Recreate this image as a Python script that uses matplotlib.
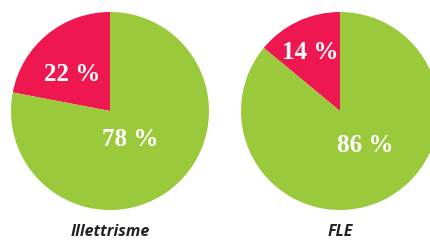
import numpy as np
import matplotlib
matplotlib.use("Agg")
import matplotlib.pyplot as plt

titles = ["Illettrisme", "FLE"]
red_values = [22, 14]
green_values = [78, 86]
label_texts = [["22 %", "78 %"], ["14 %", "86 %"]]

RED = "#EE1750"
GREEN = "#9BC93C"

fig = plt.figure(figsize=(4.31, 2.40), dpi=100)
W, H = 431, 240
R = 99
centers = [(110, 111), (340, 111)]
# label placement (radius fraction, angle offset deg) per wedge
label_place = [[(0.53, 6), (0.36, -4)], [(0.66, 2), (0.43, 11)]]

for i, (cx, cy) in enumerate(centers):
    ax = fig.add_axes([(cx - R) / W, (H - cy - R) / H, 2 * R / W, 2 * R / H])
    wedges, _ = ax.pie([red_values[i], green_values[i]], colors=[RED, GREEN],
                       startangle=90, counterclock=True, radius=1,
                       wedgeprops=dict(linewidth=0))
    ax.set_xlim(-1, 1)
    ax.set_ylim(-1, 1)
    ax.set_aspect("auto")
    ax.axis("off")
    for w, txt, (rf, off) in zip(wedges, label_texts[i], label_place[i]):
        mid = np.deg2rad((w.theta1 + w.theta2) / 2 + off)
        ax.text(rf * np.cos(mid), rf * np.sin(mid), txt, ha="center", va="center",
                color="white", fontsize=18, fontweight="bold",
                family="Liberation Serif")
    fig.text(cx / W, 1 - 232 / H, titles[i], ha="center", va="center",
             fontsize=11.5, fontweight="bold", fontstyle="italic",
             family="Open Sans", color="#222222")

fig.savefig("out.png", dpi=100)
